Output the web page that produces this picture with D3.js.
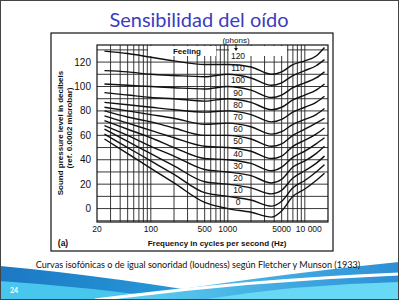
<!DOCTYPE html>
<html lang="es">
  <head>
    <meta charset="utf-8">
    <title>Sensibilidad del oído</title>
    <script src="https://d3js.org/d3.v7.min.js"></script>
    <style>
      body { margin: 0; background: #fff; }
      svg { display: block; }
    </style>
  </head>
  <body>
    <script>
      var freqs = [25, 50, 100, 200, 500, 1000, 2000, 3700, 5000, 7000, 10000, 14000, 18000];
      var phons = [0, 10, 20, 30, 40, 50, 60, 70, 80, 90, 100, 110, 120];

      // sound pressure level (dB) of each equal-loudness curve
      var spl0   = [57, 45, 33, 21, 5, 0, -3, -7, -2, 10, 16, 23, 29];
      var spl10  = [61, 50, 39, 28, 13, 10, 7, 2, 6, 17, 23, 30, 36];
      var spl20  = [65, 55, 45, 35, 22, 20, 17, 12, 15, 25, 31, 37, 43];
      var spl30  = [68, 60, 51, 43, 32, 30, 27, 21, 24, 34, 39, 45, 51];
      var spl40  = [72, 65, 58, 50, 41, 40, 37, 31, 34, 42, 47, 53, 58];
      var spl50  = [76, 70, 64, 58, 51, 50, 47, 41, 43, 51, 56, 61, 66];
      var spl60  = [80, 75, 71, 66, 60, 60, 57, 51, 53, 60, 65, 70, 74];
      var spl70  = [83, 80, 77, 74, 69, 70, 67, 61, 63, 69, 73, 77, 82];
      var spl80  = [87, 85, 83, 81, 79, 80, 77, 71, 73, 79, 83, 87, 92];
      var spl90  = [95, 93, 91, 90, 88, 90, 87, 81, 83, 89, 93, 97, 102];
      var spl100 = [102, 101, 100, 99, 98, 100, 97, 91, 93, 99, 103, 107, 112];
      var spl110 = [113, 112, 110, 109, 108, 110, 107, 101, 103, 109, 113, 117, 122];
      var spl120 = [129, 127, 124, 121, 118, 118, 116, 110, 112, 118, 121, 125, 132];
      var curves = [spl0, spl10, spl20, spl30, spl40, spl50, spl60, spl70, spl80, spl90, spl100, spl110, spl120];

      var yTicks = [0, 20, 40, 60, 80, 100, 120];
      var xTicks = [20, 100, 500, 1000, 5000, 10000];
      var xTickText = ["20", "100", "500", "1000", "5000", "10 000"];

      var width = 399,
          height = 300;

      var svg = d3.select("body").append("svg")
        .attr("width", width)
        .attr("height", height);

      svg.append("rect")
        .attr("width", width).attr("height", height)
        .attr("fill", "#fff");

      // ---- slide decoration at the bottom
      var defs = svg.append("defs");
      var g1 = defs.append("linearGradient").attr("id", "waveL").attr("x1", 0).attr("x2", 1).attr("y1", 0).attr("y2", 0);
      g1.append("stop").attr("offset", 0).attr("stop-color", "#1c78c4");
      g1.append("stop").attr("offset", 1).attr("stop-color", "#2aa6e0");
      var g2 = defs.append("linearGradient").attr("id", "waveR").attr("x1", 0).attr("x2", 1).attr("y1", 0).attr("y2", 0);
      g2.append("stop").attr("offset", 0).attr("stop-color", "#5fd3f2");
      g2.append("stop").attr("offset", 1).attr("stop-color", "#2d8fd6");

      svg.append("path")
        .attr("d", "M0,266 Q110,276 250,300 L0,300 Z")
        .attr("fill", "url(#waveL)");
      svg.append("path")
        .attr("d", "M0,281 Q90,287 180,300 L0,300 Z")
        .attr("fill", "#48c6ee");
      svg.append("path")
        .attr("d", "M110,300 Q260,276 399,262 L399,300 Z")
        .attr("fill", "url(#waveR)");
      svg.append("path")
        .attr("d", "M95,300 Q250,280 399,274")
        .attr("fill", "none")
        .attr("stroke", "#fff")
        .attr("stroke-width", 3);
      svg.append("path")
        .attr("d", "M200,300 Q300,284 399,282 L399,300 Z")
        .attr("fill", "#68d8f4");

      svg.append("text")
        .attr("x", 14).attr("y", 293)
        .attr("text-anchor", "middle")
        .style("font-family", "Lato, sans-serif")
        .style("font-size", "7px")
        .style("font-weight", "bold")
        .style("fill", "#fff")
        .text("24");

      // slide title and caption
      svg.append("text")
        .attr("x", 199).attr("y", 27)
        .attr("text-anchor", "middle")
        .style("font-family", "Lato, sans-serif")
        .style("font-size", "20px")
        .style("fill", "#3c3cbf")
        .text("Sensibilidad del oído");

      svg.append("text")
        .attr("x", 198).attr("y", 268)
        .attr("text-anchor", "middle")
        .style("font-family", "Lato, sans-serif")
        .style("font-size", "9.1px")
        .style("fill", "#111")
        .text("Curvas isofónicas o de igual sonoridad (loudness) según Fletcher y Munson (1933)");

      // ---- the scanned figure
      var x = d3.scaleLog().domain([20, 20000]).range([97, 328]);
      var y = d3.scaleLinear().domain([-11, 134]).range([222, 45]);

      var fig = svg.append("g").style("font-family", "'Liberation Sans', Arial, sans-serif");

      fig.append("rect")
        .attr("x", 51).attr("y", 33).attr("width", 282).attr("height", 218)
        .attr("fill", "#fff").attr("stroke", "#111").attr("stroke-width", 1.2);

      // log grid
      var vlines = [];
      [10, 100, 1000, 10000].forEach(function(dec) {
        for (var m = 1; m <= 9; m++) {
          var f = m * dec;
          if (f > 20 && f < 20000) vlines.push(f);
        }
      });
      fig.append("g").selectAll("line")
        .data(vlines)
        .enter().append("line")
        .attr("x1", function(d) { return x(d); })
        .attr("x2", function(d) { return x(d); })
        .attr("y1", y.range()[0]).attr("y2", y.range()[1])
        .attr("stroke", "#222").attr("stroke-width", 0.9);

      fig.append("g").selectAll("line")
        .data(d3.range(-10, 131, 10))
        .enter().append("line")
        .attr("x1", x.range()[0]).attr("x2", x.range()[1])
        .attr("y1", function(d) { return y(d); })
        .attr("y2", function(d) { return y(d); })
        .attr("stroke", "#222").attr("stroke-width", 0.9);

      // white patches at the top of the grid ("Feeling", phons arrow)
      fig.append("rect").attr("x", 148).attr("y", 46).attr("width", 68).attr("height", 10).attr("fill", "#fff");
      fig.append("rect").attr("x", 229).attr("y", 46).attr("width", 58).attr("height", 10).attr("fill", "#fff");

      fig.append("rect")
        .attr("x", x.range()[0]).attr("y", y.range()[1])
        .attr("width", x.range()[1] - x.range()[0])
        .attr("height", y.range()[0] - y.range()[1])
        .attr("fill", "none").attr("stroke", "#111").attr("stroke-width", 1.2);

      // equal loudness curves
      var line = d3.line()
        .x(function(d, i) { return x(freqs[i]); })
        .y(function(d) { return y(d); })
        .curve(d3.curveMonotoneX);

      fig.append("g").selectAll("path")
        .data(curves)
        .enter().append("path")
        .attr("d", line)
        .attr("fill", "none")
        .attr("stroke", "#111")
        .attr("stroke-width", 1.4);

      // phon labels near 1000 Hz
      fig.append("g").selectAll("text")
        .data(phons)
        .enter().append("text")
        .attr("x", 238)
        .attr("y", function(d) { return y(d + 5) + 3; })
        .attr("text-anchor", "middle")
        .style("font-size", "8.5px")
        .style("fill", "#111")
        .text(function(d) { return d; });

      fig.append("text")
        .attr("x", 236).attr("y", 43)
        .attr("text-anchor", "middle")
        .style("font-size", "8px")
        .style("fill", "#111")
        .text("(phons)");
      fig.append("line")
        .attr("x1", 236).attr("x2", 236).attr("y1", 44).attr("y2", 50)
        .attr("stroke", "#111").attr("stroke-width", 0.9);
      fig.append("path")
        .attr("d", "M234,48 L238,48 L236,51 Z")
        .attr("fill", "#111");

      fig.append("text")
        .attr("x", 187).attr("y", 54)
        .attr("text-anchor", "middle")
        .style("font-size", "8px")
        .style("font-weight", "bold")
        .style("fill", "#111")
        .text("Feeling");

      // axes labels
      fig.append("g").selectAll("text")
        .data(yTicks)
        .enter().append("text")
        .attr("x", 91)
        .attr("y", function(d) { return y(d) + 3.5; })
        .attr("text-anchor", "end")
        .style("font-size", "10px")
        .style("fill", "#111")
        .text(function(d) { return d; });

      fig.append("g").selectAll("text")
        .data(xTicks)
        .enter().append("text")
        .attr("x", function(d) { return d === 10000 ? x(d) + 4 : x(d); })
        .attr("y", 232)
        .attr("text-anchor", "middle")
        .style("font-size", "8.5px")
        .style("fill", "#111")
        .text(function(d, i) { return xTickText[i]; });

      fig.append("text")
        .attr("transform", "translate(63,133) rotate(-90)")
        .attr("text-anchor", "middle")
        .style("font-size", "8px")
        .style("font-weight", "bold")
        .style("fill", "#111")
        .text("Sound pressure level in decibels");

      fig.append("text")
        .attr("transform", "translate(72,128) rotate(-90)")
        .attr("text-anchor", "middle")
        .style("font-size", "8px")
        .style("font-weight", "bold")
        .style("fill", "#111")
        .text("(ref. 0.0002 microbar)");

      fig.append("text")
        .attr("x", 217).attr("y", 246)
        .attr("text-anchor", "middle")
        .style("font-size", "8px")
        .style("font-weight", "bold")
        .style("fill", "#111")
        .text("Frequency in cycles per second (Hz)");

      fig.append("text")
        .attr("x", 63).attr("y", 246)
        .attr("text-anchor", "middle")
        .style("font-size", "8.5px")
        .style("font-weight", "bold")
        .style("fill", "#111")
        .text("(a)");

      // thin frame around the whole slide
      svg.append("rect")
        .attr("x", 0.5).attr("y", 0.5).attr("width", width - 1).attr("height", height - 1)
        .attr("fill", "none").attr("stroke", "#444").attr("stroke-width", 1);
    </script>
  </body>
</html>
